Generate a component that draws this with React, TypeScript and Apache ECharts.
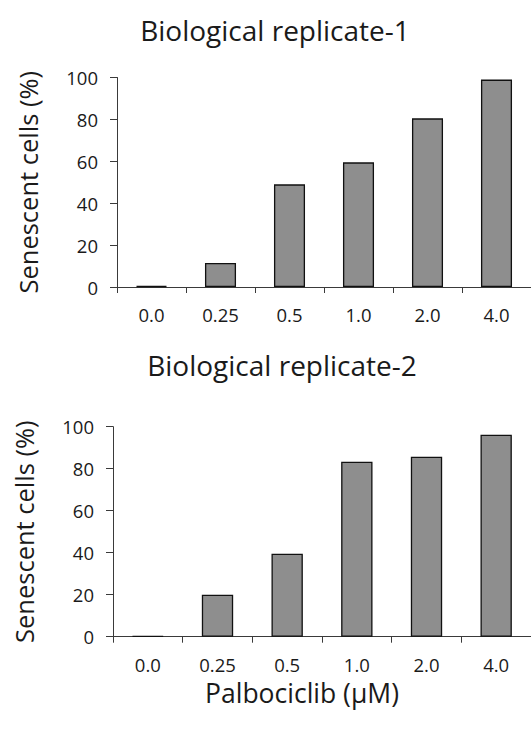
import React, { useEffect, useRef } from "react";
import * as echarts from "echarts";

const categories = ["0.0", "0.25", "0.5", "1.0", "2.0", "4.0"];
const replicate1 = [0.5, 11.5, 49, 59.5, 80.5, 99];
const replicate2 = [0.3, 20, 39.5, 83.3, 85.7, 96.2];
const yTicks = { min: 0, max: 100, interval: 20 };
const titles = ["Biological replicate-1", "Biological replicate-2"];
const yName = "Senescent cells (%)";
const xName = "Palbociclib (\u03bcM)";

const FONT = "Open Sans";
const AXIS_COLOR = "#3a3a3a";
const TEXT_COLOR = "#1a1a1a";

export default function App() {
  const ref = useRef<HTMLDivElement>(null);
  useEffect(() => {
    if (!ref.current) return;
    const chart = echarts.init(ref.current, null, { renderer: "svg" });
    const yAxisBase = (gridIndex: number) => ({
      type: "value",
      gridIndex,
      min: yTicks.min,
      max: yTicks.max,
      interval: yTicks.interval,
      name: yName,
      nameLocation: "middle",
      nameGap: 76,
      nameTextStyle: { fontFamily: FONT, fontSize: 25.5, color: TEXT_COLOR },
      axisLine: { show: true, lineStyle: { color: AXIS_COLOR, width: 1 } },
      axisTick: { show: true, length: 7, lineStyle: { color: AXIS_COLOR } },
      splitLine: { show: false },
      axisLabel: { fontFamily: FONT, fontSize: 18.5, color: TEXT_COLOR, margin: 19 },
    });
    const xAxisBase = (gridIndex: number) => ({
      type: "category",
      gridIndex,
      data: categories,
      boundaryGap: true,
      axisLine: { show: true, lineStyle: { color: AXIS_COLOR, width: 1 } },
      axisTick: { show: true, interval: 0, length: 6, alignWithLabel: false, lineStyle: { color: AXIS_COLOR } },
      axisLabel: { fontFamily: FONT, fontSize: 18.5, color: TEXT_COLOR, margin: 18, interval: 0 },
    });
    const barStyle = { color: "#8e8e8e", borderColor: "#111", borderWidth: 1.3 };
    chart.setOption({
      animation: false,
      backgroundColor: "#fff",
      title: [
        {
          text: titles[0],
          left: 270,
          top: 11,
          textAlign: "center",
          textStyle: { fontFamily: FONT, fontSize: 28, fontWeight: "normal", color: TEXT_COLOR },
        },
        {
          text: titles[1],
          left: 277,
          top: 346,
          textAlign: "center",
          textStyle: { fontFamily: FONT, fontSize: 28, fontWeight: "normal", color: TEXT_COLOR },
        },
      ],
      grid: [
        { left: 117, top: 77.5, width: 418, height: 209.5 },
        { left: 113, top: 426.7, width: 421, height: 210 },
      ],
      xAxis: [xAxisBase(0), xAxisBase(1)],
      yAxis: [yAxisBase(0), yAxisBase(1)],
      series: [
        { type: "bar", xAxisIndex: 0, yAxisIndex: 0, data: replicate1, barWidth: "45%", itemStyle: barStyle },
        { type: "bar", xAxisIndex: 1, yAxisIndex: 1, data: replicate2, barWidth: "45%", itemStyle: barStyle },
      ],
      graphic: [
        {
          type: "text",
          x: 302,
          y: 693,
          style: {
            text: xName,
            fontFamily: FONT,
            fontSize: 26.5,
            fill: TEXT_COLOR,
            textAlign: "center",
            textVerticalAlign: "middle",
          },
        },
      ],
    });
    return () => chart.dispose();
  }, []);
  return (
    <div
      ref={ref}
      style={{ position: "absolute", left: 0, top: 0, width: 531, height: 740 }}
    />
  );
}
